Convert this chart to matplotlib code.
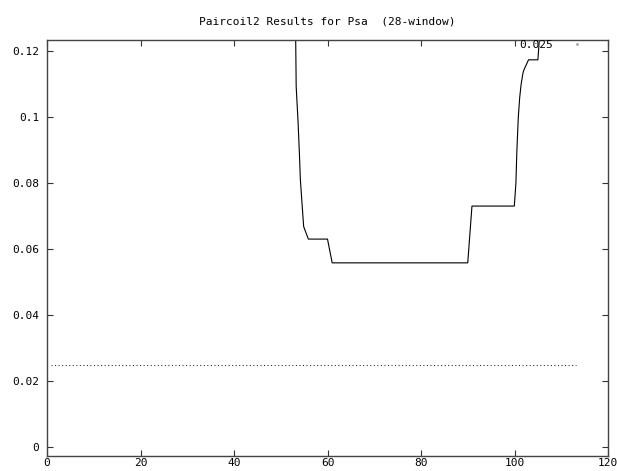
import matplotlib
matplotlib.use("Agg")
import matplotlib.pyplot as plt
from matplotlib.lines import Line2D

# Paircoil2 p-score trace for Psa, 28-residue window
residue = [53.15, 53.3, 53.7, 54.0, 54.2, 54.6, 54.9, 55.9, 60.0, 61.0,
           90.0, 90.9, 99.96, 100.3, 100.5, 100.8, 101.1, 101.4, 101.8,
           102.0, 103.0, 105.0, 105.6]
score = [0.1300, 0.1092, 0.0986, 0.0885, 0.0809, 0.0728, 0.0668, 0.0630,
         0.0630, 0.0558, 0.0558, 0.0730, 0.0730, 0.0799, 0.0895, 0.0996,
         0.1057, 0.1097, 0.1132, 0.1142, 0.1173, 0.1173, 0.1290]

# cutoff line drawn across the sequence
cutoff = 0.025
cutoff_x = [0.8, 113.1]

xticks = [0, 20, 40, 60, 80, 100, 120]
yticks = [0, 0.02, 0.04, 0.06, 0.08, 0.1, 0.12]
ytick_labels = ["0", "0.02", "0.04", "0.06", "0.08", "0.1", "0.12"]

mono = "DejaVu Sans Mono"
fs = 8

fig = plt.figure(figsize=(6.17, 4.71), dpi=100)
ax = fig.add_axes([47 / 617, 1 - 456 / 471, 561 / 617, 416 / 471])

ax.plot(residue, score, color="black", lw=0.8)
ax.plot(cutoff_x, [cutoff, cutoff], color="#222222", lw=0.75,
        ls=(0, (1, 2.4)))

ax.set_xlim(0, 120)
ax.set_ylim(-0.0027, 0.1233)
ax.set_xticks(xticks)
ax.set_xticklabels([str(t) for t in xticks], family=mono, fontsize=fs)
ax.set_yticks(yticks)
ax.set_yticklabels(ytick_labels, family=mono, fontsize=fs)
ax.tick_params(direction="in", length=4, width=0.8, top=True, right=True,
               color="#333333")
ax.tick_params(axis="x", pad=1.5)
ax.tick_params(axis="y", pad=5.5)
for sp in ax.spines.values():
    sp.set_color("#444444")
    sp.set_linewidth(1.0)

ax.set_title("Paircoil2 Results for Psa  (28-window)", family=mono,
             fontsize=fs, pad=11)

key = Line2D([0], [0], ls="none", marker="s", ms=1, color="#aaaaaa")
ax.legend([key], ["0.025"], loc="upper right", bbox_to_anchor=(0.954, 1.0),
          markerfirst=False, frameon=False, handlelength=1,
          handletextpad=1.6, borderpad=0, borderaxespad=0,
          prop={"family": mono, "size": fs})

fig.savefig("out.png", dpi=100)
